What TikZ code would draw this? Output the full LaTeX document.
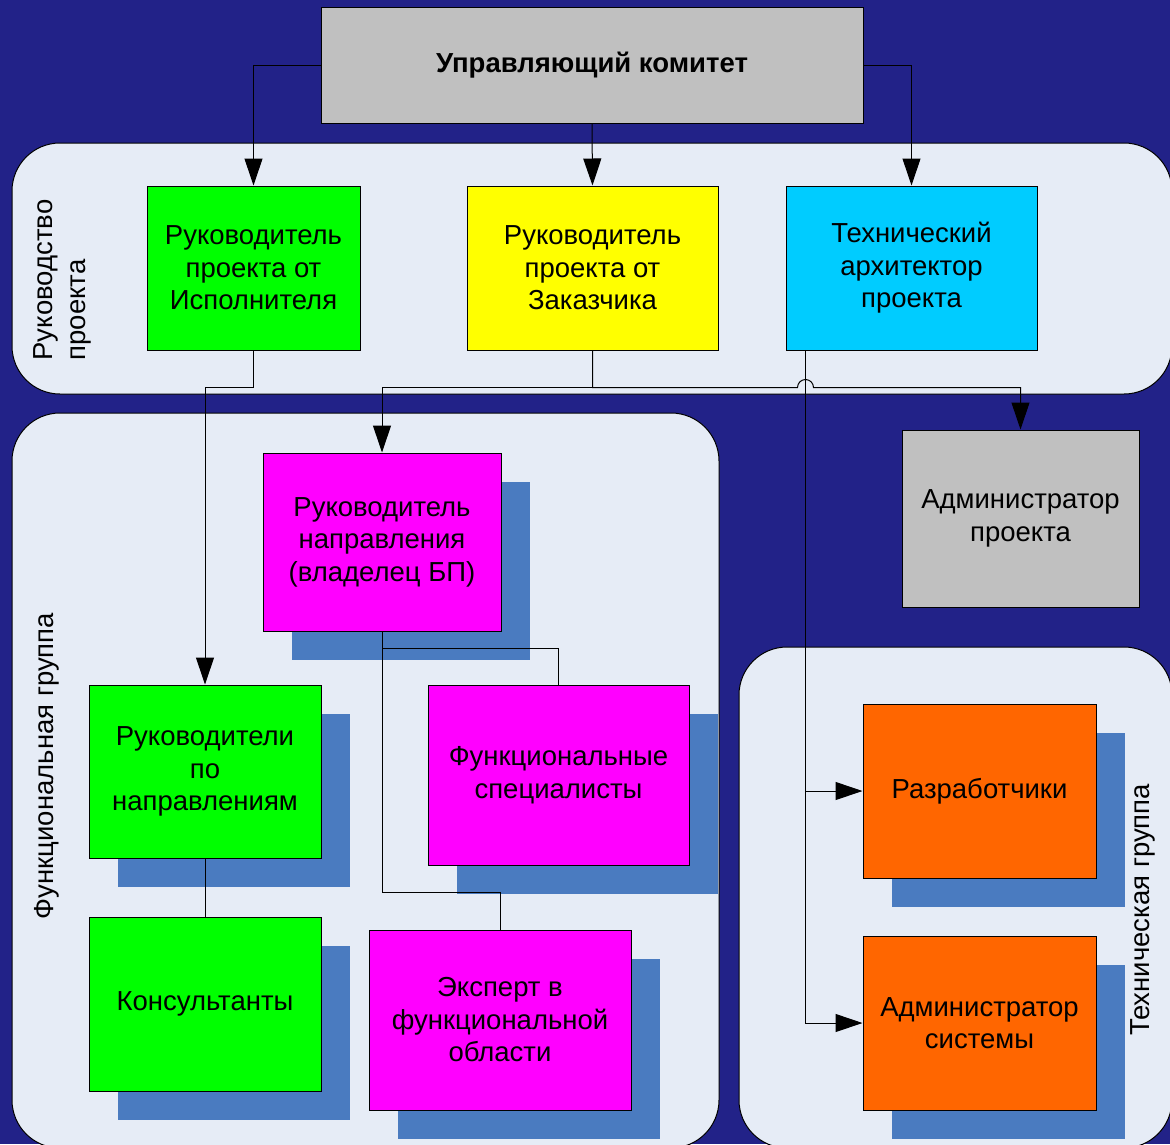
\documentclass[tikz,border=0pt]{standalone}
\usepackage{fontspec}
\setmainfont{Liberation Sans}
\usetikzlibrary{arrows.meta, calc, shadows}

\definecolor{navy}{RGB}{34,34,136}
\definecolor{panelbg}{RGB}{230,236,246}
\definecolor{shadeblue}{RGB}{74,123,192}
\definecolor{boxgray}{RGB}{192,192,192}
\definecolor{boxgreen}{RGB}{0,255,0}
\definecolor{boxyellow}{RGB}{255,255,0}
\definecolor{boxcyan}{RGB}{0,204,255}
\definecolor{boxmagenta}{RGB}{255,0,255}
\definecolor{boxorange}{RGB}{255,102,0}

\begin{document}
\begin{tikzpicture}[x=1pt, y=-1pt, line width=1pt,
    >={Triangle[length=27pt,width=18pt]},
    box/.style={draw, align=center, inner sep=0pt, font=\fontsize{27.5}{32.5}\selectfont},
    shade/.style={general shadow={fill=shadeblue, shadow xshift=29pt, shadow yshift=-29pt}},
    panel/.style={draw, fill=panelbg, rounded corners=48pt},
    grp/.style={rotate=90, align=left, font=\fontsize{27.5}{33}\selectfont}]
  \useasboundingbox (0,0) rectangle (1170,1144);
  \clip (0,0) rectangle (1170,1144);
  \fill[navy] (0,0) rectangle (1170,1144);

  % group panels
  \draw[panel] (12,143) rectangle (1172,394);
  \draw[panel] (12,413) rectangle (719,1148);
  \draw[panel] (739,647) rectangle (1172,1148);
  \node[grp] (lblmgmt) at (62,280) {Руководство\\проекта};
  \node[grp] (lblfunc) at (47,766) {Функциональная группа};
  \node[grp] (lbltech) at (1143,910) {Техническая группа};

  % management
  \node[box, fill=boxgray, minimum width=542pt, minimum height=116pt,
        font=\fontsize{27.5}{32.5}\selectfont\bfseries] (comm) at (592,65) {Управляющий комитет};
  \node[box, fill=boxgreen, minimum width=213pt, minimum height=164pt] (leadexec) at (253.5,268)
    {Руководитель\\проекта от\\Исполнителя};
  \node[box, fill=boxyellow, minimum width=251pt, minimum height=164pt] (leadcust) at (592.5,268)
    {Руководитель\\проекта от\\Заказчика};
  \node[box, fill=boxcyan, minimum width=251pt, minimum height=164pt] (arch) at (911.5,268)
    {Технический\\архитектор\\проекта};
  \node[box, fill=boxgray, minimum width=237pt, minimum height=177pt] (padmin) at (1020.5,518.5)
    {Администратор\\проекта};

  % functional group
  \node[box, shade, fill=boxmagenta, minimum width=238pt, minimum height=178pt] (head) at (382,542)
    {Руководитель\\направления\\(владелец БП)};
  \node[box, shade, fill=boxgreen, minimum width=232pt, minimum height=173pt] (dirs) at (205,771.5)
    {Руководители\\по\\направлениям};
  \node[box, shade, fill=boxmagenta, minimum width=261pt, minimum height=180pt] (spec) at (558.5,775)
    {Функциональные\\специалисты};
  \node[box, shade, fill=boxgreen, minimum width=232pt, minimum height=174pt] (cons) at (205,1004)
    {Консультанты};
  \node[box, shade, fill=boxmagenta, minimum width=262pt, minimum height=180pt] (expert) at (500,1020)
    {Эксперт в\\функциональной\\области};

  % technical group
  \node[box, shade, fill=boxorange, minimum width=233pt, minimum height=174pt] (devs) at (979.5,791)
    {Разработчики};
  \node[box, shade, fill=boxorange, minimum width=233pt, minimum height=174pt] (sadmin) at (979.5,1023)
    {Администратор\\системы};

  % connectors
  \draw[->] (comm.west) -| (leadexec.north);
  \draw[->] (comm.south) -- (leadcust.north);
  \draw[->] (comm.east) -| (arch.north);
  \draw[->] (leadexec.south) -- ++(0,37) -| (dirs.north);
  \draw[->] (leadcust.south) -- ++(0,37) -| (head.north);
  \draw[->] (leadcust.south) -- ++(0,37) -- ($(arch.south west)+(12,37)$)
    arc[start angle=180, end angle=0, radius=8pt] -| (padmin.north);
  \draw[->] ($(arch.south west)+(20,0)$) |- (devs.west);
  \draw[->] ($(arch.south west)+(20,0)$) |- (sadmin.west);
  \draw (head.south) -- ++(0,17) -| (spec.north);
  \draw (head.south) |- ($(expert.north)+(0,-37)$) -- (expert.north);
  \draw (dirs.south) -- (cons.north);
\end{tikzpicture}
\end{document}
